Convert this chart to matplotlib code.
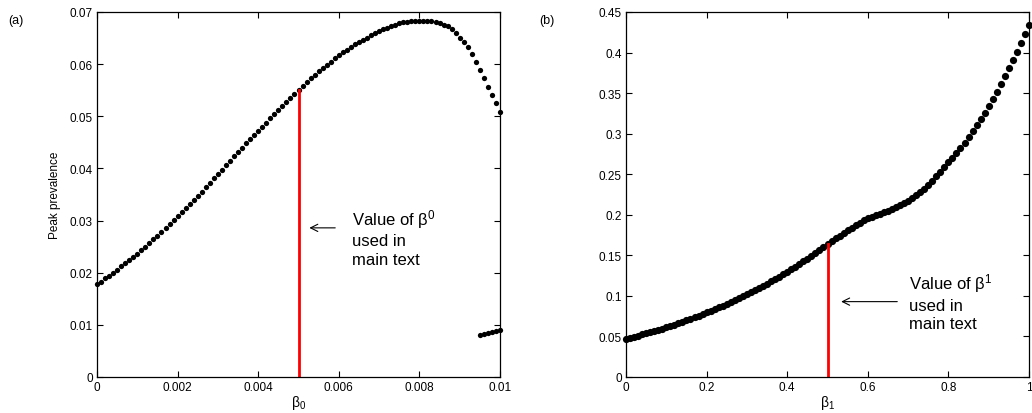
"""Peak prevalence against beta0 and beta1 (two panel sensitivity plot)."""

import matplotlib

matplotlib.use("Agg")
import matplotlib.pyplot as plt
import numpy as np

plt.rcParams["font.family"] = ["Liberation Sans", "DejaVu Sans"]
plt.rcParams["mathtext.fontset"] = "custom"
plt.rcParams["mathtext.rm"] = "Liberation Sans"
plt.rcParams["mathtext.it"] = "Liberation Sans"

# panel (a): beta0 grid, 0 .. 0.01 in steps of 1e-4
beta0 = np.linspace(0.0, 0.01, 101)
peak_a = [
    0.0178, 0.0183, 0.0189, 0.0194, 0.0200, 0.0206,
    0.0212, 0.0218, 0.0224, 0.0230, 0.0236,
    0.0243, 0.0250, 0.0257, 0.0264, 0.0271,
    0.0278, 0.0286, 0.0293, 0.0301, 0.0308,
    0.0316, 0.0324, 0.0331, 0.0339, 0.0347,
    0.0355, 0.0364, 0.0372, 0.0381, 0.0389,
    0.0397, 0.0406, 0.0414, 0.0423, 0.0431,
    0.0439, 0.0448, 0.0456, 0.0464, 0.0472,
    0.0480, 0.0488, 0.0496, 0.0504, 0.0512,
    0.0520, 0.0527, 0.0535, 0.0542, 0.0550,
    0.0559, 0.0566, 0.0573, 0.0580, 0.0586,
    0.0593, 0.0599, 0.0605, 0.0611, 0.0617,
    0.0623, 0.0628, 0.0633, 0.0638, 0.0643,
    0.0647, 0.0651, 0.0655, 0.0659, 0.0663,
    0.0667, 0.0670, 0.0673, 0.0675, 0.0678,
    0.0680, 0.0681, 0.0682, 0.0683, 0.0683,
    0.0683, 0.0683, 0.0682, 0.0681, 0.0679,
    0.0676, 0.0673, 0.0668, 0.0660, 0.0651,
    0.0642, 0.0632, 0.0619, 0.0604, 0.0589,
    0.0573, 0.0557, 0.0540, 0.0525, 0.0509,
]
# lower branch that appears near beta0 = 0.0095
beta0_low = [0.0095, 0.0096, 0.0097, 0.0098, 0.0099, 0.0100]
peak_a_low = [0.0081, 0.0083, 0.0085, 0.0087, 0.0089, 0.0091]

# panel (b): beta1 grid, 0 .. 1 in steps of 0.01
beta1 = np.linspace(0.0, 1.0, 101)
peak_b = [
    0.0467, 0.0481, 0.0495, 0.0510, 0.0525, 0.0541,
    0.0555, 0.0568, 0.0582, 0.0596, 0.0611,
    0.0627, 0.0644, 0.0661, 0.0679, 0.0697,
    0.0716, 0.0735, 0.0755, 0.0775, 0.0796,
    0.0817, 0.0838, 0.0859, 0.0881, 0.0903,
    0.0926, 0.0949, 0.0973, 0.0997, 0.1022,
    0.1047, 0.1072, 0.1098, 0.1124, 0.1150,
    0.1179, 0.1208, 0.1238, 0.1269, 0.1300,
    0.1331, 0.1362, 0.1394, 0.1426, 0.1458,
    0.1493, 0.1528, 0.1564, 0.1600, 0.1636,
    0.1672, 0.1708, 0.1743, 0.1777, 0.1810,
    0.1842, 0.1873, 0.1902, 0.1930, 0.1955,
    0.1976, 0.1995, 0.2013, 0.2031, 0.2050,
    0.2071, 0.2093, 0.2117, 0.2143, 0.2170,
    0.2202, 0.2238, 0.2278, 0.2322, 0.2370,
    0.2422, 0.2477, 0.2533, 0.2591, 0.2651,
    0.2704, 0.2762, 0.2823, 0.2889, 0.2959,
    0.3029, 0.3103, 0.3181, 0.3259, 0.3341,
    0.3428, 0.3518, 0.3608, 0.3707, 0.3806,
    0.3904, 0.4007, 0.4114, 0.4225, 0.4336,
]

# value used in the main text and the peak it gives
used_beta0, used_peak_a = 0.005, 0.0550
used_beta1, used_peak_b = 0.5, 0.1636

xticks_a = [0, 0.002, 0.004, 0.006, 0.008, 0.01]
xticklabels_a = ["0", "0.002", "0.004", "0.006", "0.008", "0.01"]
yticks_a = [0, 0.01, 0.02, 0.03, 0.04, 0.05, 0.06, 0.07]
yticklabels_a = ["0", "0.01", "0.02", "0.03", "0.04", "0.05", "0.06", "0.07"]
xticks_b = [0, 0.2, 0.4, 0.6, 0.8, 1]
xticklabels_b = ["0", "0.2", "0.4", "0.6", "0.8", "1"]
yticks_b = [0, 0.05, 0.1, 0.15, 0.2, 0.25, 0.3, 0.35, 0.4, 0.45]
yticklabels_b = ["0", "0.05", "0.1", "0.15", "0.2", "0.25", "0.3", "0.35", "0.4", "0.45"]


def style_axis(axis, xticks, xlabels, yticks, ylabels, xlim, ylim):
    axis.set_xlim(*xlim)
    axis.set_ylim(*ylim)
    axis.set_xticks(xticks)
    axis.set_xticklabels(xlabels)
    axis.set_yticks(yticks)
    axis.set_yticklabels(ylabels)
    axis.tick_params(direction="in", length=4, width=0.8, labelsize=8.5,
                     top=True, right=True, pad=3)
    for spine in axis.spines.values():
        spine.set_linewidth(0.9)


figure = plt.figure(figsize=(10.32, 4.14), dpi=100)
ax_a = figure.add_axes([0.094, 0.087, 0.3905, 0.8816])
ax_b = figure.add_axes([0.6066, 0.087, 0.3905, 0.8816])

arrow_style = dict(arrowstyle="->", color="black", lw=0.8, mutation_scale=13)

# (a)
ax_a.plot(beta0, peak_a, "o", color="black", ms=3.8, mew=0, clip_on=False)
ax_a.plot(beta0_low, peak_a_low, "o", color="black", ms=3.8, mew=0, clip_on=False)
ax_a.plot([used_beta0, used_beta0], [0, used_peak_a], color="red", lw=2)
style_axis(ax_a, xticks_a, xticklabels_a, yticks_a, yticklabels_a, (0, 0.01), (0, 0.07))
ax_a.set_xlabel(r"$\mathrm{\beta_0}$", fontsize=10, labelpad=0)
ax_a.set_ylabel("Peak prevalence", fontsize=8.5, labelpad=6)
ax_a.annotate("", xy=(0.0052, 0.0286), xytext=(0.00598, 0.0286), arrowprops=arrow_style)
ax_a.text(0.00633, 0.0326, "Value of $\\mathrm{\\beta^0}$\nused in\nmain text",
          fontsize=12, va="top", ha="left", linespacing=1.28)
figure.text(0.008, 0.95, "(a)", fontsize=9, ha="left", va="center")

# (b)
ax_b.plot(beta1, peak_b, "o", color="black", ms=5.2, mew=0, clip_on=False)
ax_b.plot([used_beta1, used_beta1], [0, used_peak_b], color="red", lw=2)
style_axis(ax_b, xticks_b, xticklabels_b, yticks_b, yticklabels_b, (0, 1), (0, 0.45))
ax_b.set_xlabel(r"$\mathrm{\beta_1}$", fontsize=10, labelpad=0)
ax_b.annotate("", xy=(0.527, 0.0929), xytext=(0.68, 0.0929), arrowprops=arrow_style)
ax_b.text(0.702, 0.1300, "Value of $\\mathrm{\\beta^1}$\nused in\nmain text",
          fontsize=12, va="top", ha="left", linespacing=1.28)
figure.text(0.523, 0.95, "(b)", fontsize=9, ha="left", va="center")

figure.savefig("out.png", dpi=100)
plt.close(figure)
